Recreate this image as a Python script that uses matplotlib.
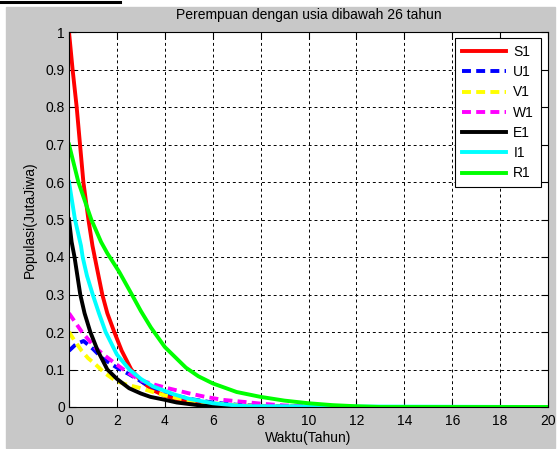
import numpy as np
import matplotlib
matplotlib.use("Agg")
import matplotlib.pyplot as plt
from matplotlib.patches import Rectangle
from matplotlib.lines import Line2D

plt.rcParams['font.family'] = ['Liberation Sans', 'DejaVu Sans']

# values (time in years, population in millions)
s1_t = [0, 0.15, 0.32, 0.46, 0.6, 0.81, 0.98, 1.2, 1.39, 1.6, 1.89, 2.2, 2.6, 3, 3.5, 4, 5, 6, 7, 8, 10, 12, 20]
s1_y = [1.0, 0.9, 0.8, 0.7, 0.6, 0.5, 0.43, 0.36, 0.3, 0.25, 0.2, 0.15, 0.1, 0.07, 0.045, 0.03, 0.012, 0.005, 0.002, 0.001, 0, 0, 0]

u1_t = [0, 0.3, 0.61, 1.0, 1.39, 2.0, 2.52, 3.23, 4, 4.5, 5, 6, 7, 8, 10, 12, 20]
u1_y = [0.15, 0.168, 0.176, 0.155, 0.13, 0.105, 0.087, 0.06, 0.04, 0.03, 0.022, 0.012, 0.006, 0.003, 0.001, 0, 0]

v1_t = [0, 0.25, 0.54, 0.8, 1.1, 1.5, 1.97, 2.5, 2.95, 3.5, 3.94, 4.5, 5, 6, 7, 8, 12, 20]
v1_y = [0.2, 0.175, 0.149, 0.13, 0.114, 0.09, 0.069, 0.058, 0.051, 0.04, 0.032, 0.024, 0.018, 0.01, 0.005, 0.002, 0, 0]

w1_t = [0, 0.54, 1.1, 1.5, 1.97, 2.5, 2.95, 3.66, 4.2, 5.04, 5.7, 6.43, 7.4, 8, 9, 10, 12, 20]
w1_y = [0.25, 0.2, 0.158, 0.137, 0.114, 0.09, 0.072, 0.058, 0.049, 0.036, 0.027, 0.019, 0.013, 0.009, 0.004, 0.002, 0, 0]

e1_t = [0, 0.11, 0.23, 0.47, 0.65, 0.89, 1.2, 1.6, 2.0, 2.51, 3.0, 3.4, 3.94, 4.5, 5.5, 6.5, 8, 20]
e1_y = [0.5, 0.44, 0.4, 0.3, 0.25, 0.2, 0.15, 0.1, 0.075, 0.05, 0.036, 0.027, 0.02, 0.012, 0.004, 0.001, 0, 0]

i1_t = [0, 0.25, 0.5, 0.57, 0.75, 0.99, 1.25, 1.53, 2.0, 2.52, 3.0, 3.5, 4.37, 5, 6, 7, 7.5, 20]
i1_y = [0.6, 0.5, 0.43, 0.4, 0.35, 0.3, 0.25, 0.2, 0.14, 0.1, 0.075, 0.055, 0.034, 0.022, 0.01, 0.004, 0.002, 0]

r1_t = [0, 0.39, 0.93, 1.34, 1.6, 2.1, 2.58, 3.0, 3.42, 4.0, 4.88, 5.4, 6.0, 7, 8, 9, 10, 11, 12, 13, 20]
r1_y = [0.7, 0.6, 0.5, 0.44, 0.41, 0.36, 0.305, 0.256, 0.212, 0.16, 0.105, 0.082, 0.063, 0.04, 0.027, 0.017, 0.01, 0.005, 0.002, 0, 0]

W, H = 558, 449
fig = plt.figure(figsize=(W / 100, H / 100), dpi=100, facecolor='white')

# grey matlab figure background + stray black line top left
fig.patches.append(Rectangle((6 / W, 1 - 448 / H), 549 / W, 441 / H,
                             transform=fig.transFigure, color='#c8c8c8', zorder=-1))
fig.lines.append(Line2D([0, 120 / W], [1 - 2 / H, 1 - 2 / H],
                        transform=fig.transFigure, color='black', lw=2.2))

ax = fig.add_axes([69 / W, 1 - 407 / H, 479 / W, 375 / H])
ax.set_facecolor('white')

lw = 2.8
dash = (2.3, 1.35)
ax.plot(s1_t, s1_y, color='#ff0000', lw=lw, label='S1')
ax.plot(u1_t, u1_y, color='#0000ff', lw=lw, dashes=dash, label='U1')
ax.plot(v1_t, v1_y, color='#ffff00', lw=lw, dashes=dash, label='V1')
ax.plot(w1_t, w1_y, color='#ff00ff', lw=lw, dashes=dash, label='W1')
ax.plot(e1_t, e1_y, color='#000000', lw=lw, label='E1')
ax.plot(i1_t, i1_y, color='#00ffff', lw=lw, label='I1')
ax.plot(r1_t, r1_y, color='#00ff00', lw=lw, label='R1')

ax.set_xlim(0, 20)
ax.set_ylim(0, 1)
ax.set_xticks(np.arange(0, 21, 2))
ax.set_yticks(np.arange(0, 1.01, 0.1))
ax.set_yticklabels(['0', '0.1', '0.2', '0.3', '0.4', '0.5', '0.6', '0.7', '0.8', '0.9', '1'])
ax.grid(True, color='black', linestyle=(0, (3, 3)), lw=0.7)
ax.tick_params(direction='in', top=True, right=True, length=5, width=0.8,
               labelsize=10, colors='black', pad=3)
ax.tick_params(axis='x', pad=5)
for sp in ax.spines.values():
    sp.set_linewidth(0.8)

ax.set_title('Perempuan dengan usia dibawah 26 tahun', fontsize=10, pad=9)
ax.set_xlabel('Waktu(Tahun)', fontsize=10, labelpad=2)
ax.set_ylabel('Populasi(JutaJiwa)', fontsize=10, labelpad=6)

leg = ax.legend(loc='upper right', bbox_to_anchor=(541 / W, 1 - 38 / H),
                bbox_transform=fig.transFigure, fontsize=10, handlelength=3.2,
                fancybox=False, framealpha=1, edgecolor='black', borderaxespad=0,
                labelspacing=0.45, borderpad=0.5, handletextpad=0.5)
leg.get_frame().set_linewidth(0.8)

fig.savefig('out.png', dpi=100, facecolor='white')
